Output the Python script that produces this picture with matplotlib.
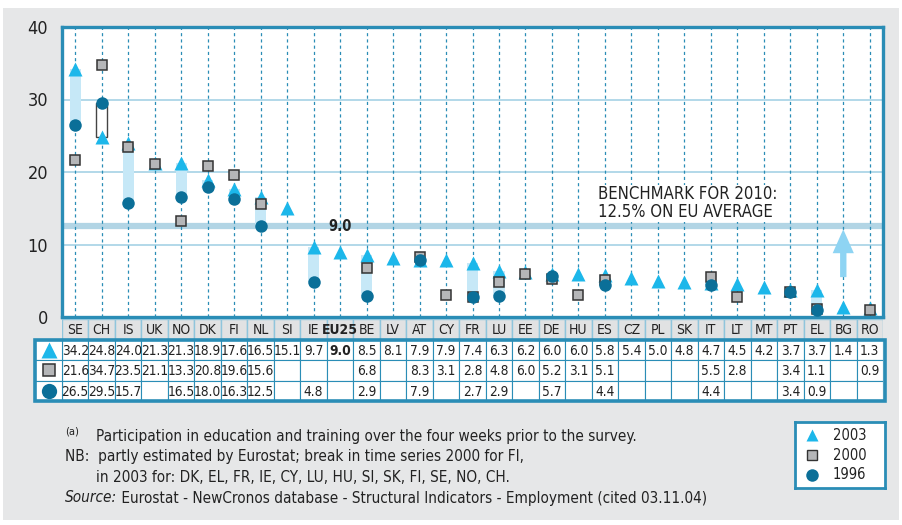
import numpy as np
import matplotlib
matplotlib.use('Agg')
import matplotlib.pyplot as plt
from matplotlib import font_manager
from matplotlib.text import Annotation
from matplotlib.patches import Rectangle, FancyArrow

# ищем узкий шрифт, если есть
fonts = font_manager.fontManager.ttflist
narrow = [f for f in fonts if 'Narrow' in f.name or 'Condensed' in f.name
          or str(f.stretch) in ('condensed', 'semi-condensed', '500', '300', '400')]
narrow = [f for f in narrow if 'Mono' not in f.name and 'Serif' not in f.name]
if narrow:
    fam = narrow[0].name
    stretch = narrow[0].stretch
else:
    fam, stretch = 'Liberation Sans', 'normal'
plt.rcParams['font.family'] = [fam, 'Liberation Sans', 'DejaVu Sans']
plt.rcParams['font.stretch'] = stretch

countries = ['SE', 'CH', 'IS', 'UK', 'NO', 'DK', 'FI', 'NL', 'SI', 'IE', 'EU25', 'BE', 'LV', 'AT', 'CY',
             'FR', 'LU', 'EE', 'DE', 'HU', 'ES', 'CZ', 'PL', 'SK', 'IT', 'LT', 'MT', 'PT', 'EL', 'BG', 'RO']
y2003 = [34.2, 24.8, 24.0, 21.3, 21.3, 18.9, 17.6, 16.5, 15.1, 9.7, 9.0, 8.5, 8.1, 7.9, 7.9,
         7.4, 6.3, 6.2, 6.0, 6.0, 5.8, 5.4, 5.0, 4.8, 4.7, 4.5, 4.2, 3.7, 3.7, 1.4, 1.3]
y2000 = [21.6, 34.7, 23.5, 21.1, 13.3, 20.8, 19.6, 15.6, None, None, None, 6.8, None, 8.3, 3.1,
         2.8, 4.8, 6.0, 5.2, 3.1, 5.1, None, None, None, 5.5, 2.8, None, 3.4, 1.1, None, 0.9]
y1996 = [26.5, 29.5, 15.7, None, 16.5, 18.0, 16.3, 12.5, None, 4.8, None, 2.9, None, 7.9, None,
         2.7, 2.9, None, 5.7, None, 4.4, None, None, None, 4.4, None, None, 3.4, 0.9, None, None]
benchmark = 12.5
years = ['2003', '2000', '1996']

c_blue = '#2a8db6'
c_grid = '#a6d2e5'
c_bar = '#c6e8f7'
c_tri = '#1cb7ea'
c_sq = '#b5b6b8'
c_circ = '#0b6f98'
c_bg = '#e6e7e8'
c_txt = '#222222'

W, H = 902, 525
fig = plt.figure(figsize=(W / 100, H / 100), dpi=100)
fig.patch.set_facecolor('white')


def fx(px):
    return px / W


def fy(py):
    return 1 - py / H


# серая подложка
fig.add_artist(Rectangle((fx(3), fy(520)), fx(899) - fx(3), fy(8) - fy(520),
                         transform=fig.transFigure, facecolor=c_bg, edgecolor='none', zorder=0))

n = len(countries)
x = np.arange(n)

# основной график
ax = fig.add_axes([fx(62), fy(317), fx(883) - fx(62), fy(27) - fy(317)])
ax.set_xlim(-0.5, n - 0.5)
ax.set_ylim(0, 40)
for s in ax.spines.values():
    s.set_color(c_blue)
    s.set_linewidth(2.4)
ax.set_xticks([])
ax.set_yticks([0, 10, 20, 30, 40])
ax.tick_params(axis='y', length=0, pad=10, labelsize=13, colors=c_txt)
for v in [10, 20, 30]:
    ax.axhline(v, color=c_grid, lw=1.2, zorder=1)
ax.axhline(benchmark, color='#b2d5e5', lw=4.5, zorder=1)
for xi in x:
    ax.axvline(xi, color=c_blue, lw=0.9, ls=(0, (2.5, 2.5)), zorder=1.5)

# полосы 1996 -> 2003
bw = 0.42
for i in range(n):
    a, b = y1996[i], y2003[i]
    if a is None or a == b:
        continue
    lo, hi = min(a, b), max(a, b)
    if b > a:
        ax.add_patch(Rectangle((i - bw / 2, lo), bw, hi - lo, facecolor=c_bar, edgecolor='none', zorder=2))
    else:
        ax.add_patch(Rectangle((i - bw / 2, lo), bw, hi - lo, facecolor='white', edgecolor='#444444', lw=1.0, zorder=2))


def pts(vals):
    xs = [i for i, v in enumerate(vals) if v is not None]
    return xs, [vals[i] for i in xs]


xs, ys = pts(y2003)
ax.plot(xs, ys, ls='none', marker='^', ms=10, color=c_tri, mec='none', zorder=3)
xs, ys = pts(y2000)
ax.plot(xs, ys, ls='none', marker='s', ms=7.5, mfc=c_sq, mec='#333333', mew=1.1, zorder=4)
xs, ys = pts(y1996)
ax.plot(xs, ys, ls='none', marker='o', ms=9, color=c_circ, mec='none', zorder=5)

eu = countries.index('EU25')
ax.annotate('9.0', (eu, y2003[eu]), xytext=(0, 13), textcoords='offset points', ha='center', va='bottom',
            fontsize=10.5, fontweight='bold', color=c_txt)
ax.text(19.75, 15.7, 'BENCHMARK FOR 2010:\n12.5% ON EU AVERAGE', fontsize=12, color=c_txt,
        ha='left', va='center', linespacing=1.0, zorder=6,
        bbox=dict(facecolor='white', edgecolor='none', pad=0.5))
bg = countries.index('BG')
ax.add_patch(FancyArrow(bg, 5.5, 0, 6.6, width=0.24, head_width=0.8, head_length=3.3,
                        length_includes_head=True, color='#8ed4f3', ec='none', zorder=3))

# таблица
tab = fig.add_axes([fx(62), fy(401), fx(883) - fx(62), fy(319) - fy(401)])
tab.set_xlim(-0.5, n - 0.5)
tab.set_ylim(4, 0)
tab.axis('off')
mx0 = -0.5 - 27 / (821 / n)  # левый край колонки с маркерами
for i, c in enumerate(countries):
    tab.add_patch(Rectangle((i - 0.5, 0), 1, 1, facecolor='#e1e2e3', edgecolor='#8fc5dc', lw=1.0))
    tab.text(i, 0.55, c, ha='center', va='center', fontsize=10,
             fontweight='bold' if c == 'EU25' else 'normal', color=c_txt)
rows = [y2003, y2000, y1996]
for r, vals in enumerate(rows):
    for i, v in enumerate(vals):
        tab.add_patch(Rectangle((i - 0.5, r + 1), 1, 1, facecolor='white', edgecolor=c_blue, lw=0.8))
        if v is not None:
            tab.text(i, r + 1.55, f'{v:.1f}', ha='center', va='center', fontsize=9.8,
                     fontweight='bold' if countries[i] == 'EU25' else 'normal', color=c_txt)
    tab.add_patch(Rectangle((mx0, r + 1), -0.5 - mx0, 1, facecolor='white', edgecolor=c_blue, lw=0.8, clip_on=False))
mc = (mx0 - 0.5) / 2
tab.plot([mc], [1.5], marker='^', ms=11, color=c_tri, mec='none', clip_on=False)
tab.plot([mc], [2.5], marker='s', ms=8, mfc=c_sq, mec='#333333', mew=1.1, clip_on=False)
tab.plot([mc], [3.5], marker='o', ms=11, color=c_circ, mec='none', clip_on=False)
tab.add_patch(Rectangle((mx0, 1), n - 0.5 - mx0 + 0.08, 3, facecolor='none', edgecolor=c_blue, lw=2.6, clip_on=False))

# легенда
lg = fig.add_axes([fx(795), fy(488), fx(885) - fx(795), fy(422) - fy(488)])
lg.set_xlim(0, 1)
lg.set_ylim(3, 0)
lg.set_xticks([])
lg.set_yticks([])
for s in lg.spines.values():
    s.set_color(c_blue)
    s.set_linewidth(2)
ly = [0.6, 1.5, 2.4]
lg.plot([0.19], [ly[0]], marker='^', ms=9, color=c_tri, mec='none')
lg.plot([0.19], [ly[1]], marker='s', ms=7, mfc=c_sq, mec='#333333', mew=1)
lg.plot([0.19], [ly[2]], marker='o', ms=9, color=c_circ, mec='none')
for k, yr in enumerate(years):
    lg.text(0.42, ly[k], yr, va='center', ha='left', fontsize=10.5, color=c_txt)

# примечания
fs = 11
fig.text(fx(65), fy(431), '(a)', fontsize=8, va='center', color=c_txt)
fig.text(fx(96), fy(436), 'Participation in education and training over the four weeks prior to the survey.',
         fontsize=fs, va='center', color=c_txt)
fig.text(fx(65), fy(456), 'NB:  partly estimated by Eurostat; break in time series 2000 for FI,',
         fontsize=fs, va='center', color=c_txt)
fig.text(fx(96), fy(477), 'in 2003 for: DK, EL, FR, IE, CY, LU, HU, SI, SK, FI, SE, NO, CH.',
         fontsize=fs, va='center', color=c_txt)
src = fig.text(fx(65), fy(498), 'Source:', fontsize=fs, va='center', style='italic', color=c_txt)
fig.add_artist(Annotation(
    ' Eurostat - NewCronos database - Structural Indicators - Employment (cited 03.11.04)',
    xy=(1, 0.5), xycoords=src, va='center', ha='left', fontsize=fs, color=c_txt))

fig.savefig('out.png', dpi=100, facecolor=fig.get_facecolor())
